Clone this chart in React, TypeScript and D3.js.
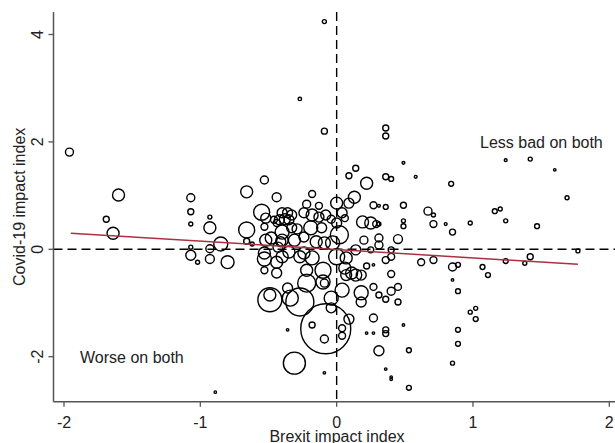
import React from "react";
import * as d3 from "d3";

// Brexit impact (x), Covid-19 impact (y), population weight (bubble area)
const brexit = [
  -0.09, -0.27, -0.09, 0.36, 0.36, -1.96, 0.49, 0.14, 0.09, 0.36, 0.40, 0.58, 0.22, 0.84, 1.24, 1.42, 1.60, 1.69, 1.16, 1.20,
  1.24, 0.98, 1.47, 0.80, 0.85, 0.67, 0.71, 0.71, 0.49, 0.49, 0.49, 0.27, 0.31, 0.36, 0.45, 0.31, 0.31, 0.20, 0.40, 0.25,
  1.77, 1.42, 1.38, 1.24, 1.07, 1.11, 0.85, 0.89, 0.71, 0.62, 0.85, 0.89, 0.98, 1.02, 1.02, 0.89, 0.89, 0.85, 0.53, 0.53,
  0.49, 0.36, 0.40, 0.40, -0.09, 0.31, 0.36, 0.36, 0.27, 0.22, 0.27, 0.09, 0.04, 0.04, -0.18, -0.09, 0.45, 0.40, 0.36, 0.31,
  0.45, 0.27, 0.40, 0.40, 0.36, 0.22, 0.27,
  -0.08, -0.31, -0.36, -0.49, -0.49, -0.36, -0.34, -0.27, -0.09,
  -0.53, -0.66, -0.44, -0.18, -0.22, -0.13, -0.55, -0.52, -0.40, -0.36, -0.33, -0.42, -0.38, -0.35, -0.24, -0.18, -0.13, -0.08, -0.46, -0.44,
  -0.33, -0.29, -0.19, -0.11, -0.53, -0.40, -0.40, -0.52, -0.48, -0.41, -0.31, -0.24, -0.15, -0.09, -0.62, -0.43, -0.35, -0.53, -0.24, -0.53,
  -0.44, -0.40, -0.44, -0.53, -0.27, -0.18, -0.22, -0.22, -0.10, -0.10, -0.04, -0.04, 0.00, 0.04, 0.06, -0.04, 0.00, 0.09, 0.13, 0.02,
  -0.03, 0.19, 0.25, 0.29, 0.31, 0.00, 0.07, 0.14, 0.06, 0.07, 0.11, 0.14, 0.18, 0.18, 0.18, 0.04,
  -1.07, -1.07, -1.07, -0.93, -0.93, -0.85, -1.07, -1.07, -1.02, -0.93, -0.93, -0.80, -0.66, -0.66, -1.60, -1.69, -1.64, -0.89,
];
const covid = [
  4.24, 2.80, 2.20, 2.26, 2.11, 1.81, 1.61, 1.51, 1.37, 1.35, 1.31, 1.35, 1.23, 1.22, 1.66, 1.68, 1.48, 0.96, 0.71, 0.75,
  0.53, 0.49, 0.43, 0.47, 0.32, 0.71, 0.64, 0.47, 0.53, 0.43, 0.82, 0.82, 0.81, 0.79, 0.19, 0.21, 0.08, 0.17, -0.01, -0.01,
  -0.03, -0.14, -0.26, -0.22, -0.33, -0.48, -0.33, -0.29, -0.20, -0.24, -0.57, -0.78, -1.17, -1.10, -1.30, -1.50, -1.76, -2.12, -1.88, -2.58,
  -1.41, -2.23, -2.38, -2.42, -2.30, -1.89, -1.50, -1.57, -1.28, -1.56, -1.56, -1.30, -1.47, -1.61, -1.41, -1.67, -0.70, -0.78, -0.93, -0.85,
  -0.98, -0.70, -0.46, -0.14, -0.20, -0.31, -0.29,
  -1.48, -2.12, -1.50, -0.94, -0.85, -0.72, -0.91, -0.98, -0.63,
  1.29, 1.07, 0.97, 1.03, 0.84, 0.81, 0.69, 0.58, 0.68, 0.68, 0.64, 0.55, 0.56, 0.55, 0.68, 0.64, 0.60, 0.64, 0.55, 0.49,
  0.40, 0.38, 0.40, 0.40, 0.42, 0.32, 0.17, 0.17, 0.21, 0.14, 0.17, 0.23, 0.14, 0.12, 0.10, 0.04, -0.05, -0.07, -0.07, -0.18,
  -0.24, -0.14, -0.44, -0.39, -0.14, -0.16, -0.39, -0.63, -0.39, -0.61, -0.91, -1.09, 0.86, 0.68, 0.58, 0.56, 0.49, 0.86, 0.97, 0.27,
  0.12, 0.51, 0.49, 0.47, 0.47, -0.14, -0.16, -0.01, -0.35, -0.48, -0.44, -0.48, -0.48, -0.81, -0.98, -0.76,
  0.96, 0.70, 0.47, 0.60, 0.40, 0.10, 0.04, -0.11, -0.24, 0.01, -0.18, -0.24, 0.36, 0.15, 1.01, 0.56, 0.30, -2.66,
];
const weight = [
  4, 3, 9, 9, 9, 16, 2, 9, 9, 9, 6, 2, 36, 6, 2, 4, 1.5, 4, 6, 4,
  4, 4, 6, 2, 9, 16, 4, 12, 4, 6, 9, 12, 2, 6, 20, 16, 16, 16, 9, 9,
  4, 9, 4, 6, 6, 6, 16, 6, 12, 12, 1.5, 6, 4, 4, 6, 6, 6, 4, 6, 6,
  1.5, 1.5, 1.5, 1.5, 1.5, 25, 9, 9, 16, 1.5, 1.5, 25, 12, 12, 9, 16, 12, 16, 9, 9,
  9, 12, 12, 12, 12, 9, 1.5,
  625, 121, 1.5, 144, 36, 25, 64, 196, 16,
  16, 36, 20, 12, 16, 12, 64, 25, 25, 25, 25, 25, 30, 25, 25, 36, 25, 25, 12, 12,
  25, 25, 49, 25, 12, 49, 36, 36, 36, 25, 36, 25, 36, 36, 4, 25, 36, 36, 36, 49,
  36, 36, 25, 12, 36, 49, 36, 81, 64, 49, 49, 25, 36, 25, 12, 16, 25, 25, 36, 81,
  49, 36, 36, 12, 4, 64, 36, 25, 36, 30, 36, 36, 25, 49, 25, 49,
  16, 9, 4, 4, 36, 49, 4, 25, 4, 16, 20, 42, 64, 9, 36, 9, 36, 1.5,
];

// Fitted (weighted) regression line endpoints
const fitX = [-1.95, 1.77];
const fitY = [0.3, -0.28];

const xTicks = [-2, -1, 0, 1, 2];
const yTicks = [-2, 0, 2, 4];

export default function App() {
  const W = 615, H = 443;
  const x = d3.scaleLinear().domain([-2, 2]).range([64, 609.3]);
  const y = d3.scaleLinear().domain([-2, 4]).range([356.7, 34.5]);
  const r = d3.scaleSqrt().domain([0, 625]).range([0, 25]);
  const left = 53.5, top = 12, bottom = 401.7, right = W;
  const axisColor = "#555";
  const font = "Liberation Sans, Arial, sans-serif";

  const pts = brexit.map((b, i) => ({ b, c: covid[i], w: weight[i] }));
  const line = d3.line<number>().x((d) => x(d)).y((_, i) => y(fitY[i]));

  return (
    <svg width={W} height={H} style={{ position: "absolute", left: 0, top: 0, background: "#fff" }} fontFamily={font}>
      <rect width={W} height={H} fill="#fff" />
      {/* reference lines */}
      <line x1={x(0)} x2={x(0)} y1={top} y2={bottom} stroke="#000" strokeWidth={1.4} strokeDasharray="9,5" />
      <line x1={left} x2={right} y1={y(0)} y2={y(0)} stroke="#000" strokeWidth={1.4} strokeDasharray="9,5" />
      {/* bubbles */}
      {pts.map((p, i) => (
        <circle key={i} cx={x(p.b)} cy={y(p.c)} r={Math.max(r(p.w), 1)} fill="none" stroke="#000" strokeWidth={1.4} />
      ))}
      {/* fit line */}
      <path d={line(fitX) || ""} fill="none" stroke="#a83240" strokeWidth={1.5} />
      {/* axes */}
      <line x1={left} x2={left} y1={top} y2={bottom} stroke={axisColor} strokeWidth={1.5} />
      <line x1={left} x2={right} y1={bottom} y2={bottom} stroke={axisColor} strokeWidth={1.5} />
      {yTicks.map((t) => (
        <g key={"y" + t}>
          <line x1={left - 5} x2={left} y1={y(t)} y2={y(t)} stroke={axisColor} strokeWidth={1.3} />
          <text transform={`translate(43,${y(t)}) rotate(-90)`} textAnchor="middle" fontSize={16} fill="#222">
            {t}
          </text>
        </g>
      ))}
      {xTicks.map((t) => (
        <g key={"x" + t}>
          <line x1={x(t)} x2={x(t)} y1={bottom} y2={bottom + 5} stroke={axisColor} strokeWidth={1.3} />
          <text x={x(t)} y={428} textAnchor="middle" fontSize={16} fill="#222">
            {t}
          </text>
        </g>
      ))}
      <text transform={`translate(25,${(top + bottom) / 2}) rotate(-90)`} textAnchor="middle" fontSize={16} fill="#222">
        Covid-19 impact index
      </text>
      <text x={337} y={442} textAnchor="middle" fontSize={16} fill="#222">
        Brexit impact index
      </text>
      <text x={480} y={148} fontSize={16} fill="#222">Less bad on both</text>
      <text x={80} y={363} fontSize={16} fill="#222">Worse on both</text>
    </svg>
  );
}
